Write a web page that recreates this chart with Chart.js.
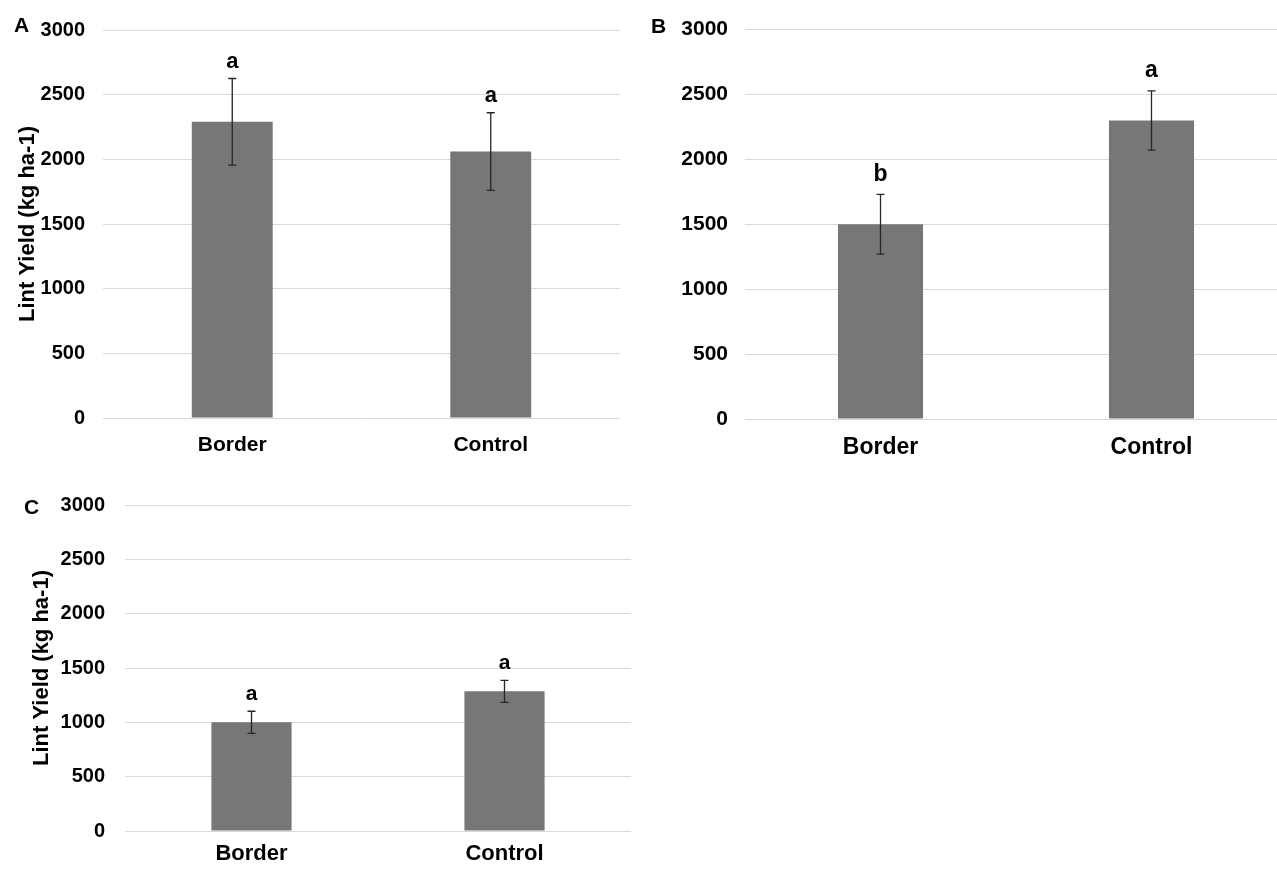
<!DOCTYPE html>
<html>
<head>
<meta charset="utf-8">
<script src="https://cdn.jsdelivr.net/npm/chart.js@4.4.1/dist/chart.umd.min.js"></script>
<style>
  html, body { margin: 0; padding: 0; background: #fff; width: 1277px; height: 870px; overflow: hidden; }
  .panel { position: absolute; }
  .tag { position: absolute; font-family: 'Liberation Sans', Arial, sans-serif; font-weight: bold; font-size: 21px; color: #000; line-height: 1; }
</style>
</head>
<body>
<div class="panel" style="left:0;top:0"><canvas id="chartA" width="640" height="470"></canvas></div>
<div class="panel" style="left:640px;top:0"><canvas id="chartB" width="660" height="470"></canvas></div>
<div class="panel" style="left:0;top:460px"><canvas id="chartC" width="640" height="410"></canvas></div>
<div class="tag" style="left:14px;top:14px">A</div>
<div class="tag" style="left:651px;top:15px">B</div>
<div class="tag" style="left:24px;top:496px">C</div>

<script>
// data
const categories = ['Border', 'Control'];
const yTicks = [0, 500, 1000, 1500, 2000, 2500, 3000];

const yieldA = [2290, 2060];
const errA = [335, 300];
const lettersA = ['a', 'a'];

const yieldB = [1500, 2300];
const errB = [230, 228];
const lettersB = ['b', 'a'];

const yieldC = [1000, 1285];
const errC = [102, 101];
const lettersC = ['a', 'a'];

const ARIAL = "'Liberation Sans', Arial, sans-serif";

// error bars + significance letters
const errorBars = {
  id: 'errorBars',
  afterDatasetsDraw(chart) {
    const o = chart.options.plugins.errorBars;
    const ctx = chart.ctx;
    const y = chart.scales.y;
    chart.getDatasetMeta(0).data.forEach((bar, i) => {
      const v = chart.data.datasets[0].data[i];
      const e = o.errors[i];
      const top = y.getPixelForValue(v + e);
      const bot = y.getPixelForValue(v - e);
      ctx.save();
      ctx.strokeStyle = '#262626';
      ctx.lineWidth = 1.3;
      ctx.beginPath();
      ctx.moveTo(bar.x, top); ctx.lineTo(bar.x, bot);
      ctx.moveTo(bar.x - 4, top); ctx.lineTo(bar.x + 4, top);
      ctx.moveTo(bar.x - 4, bot); ctx.lineTo(bar.x + 4, bot);
      ctx.stroke();
      ctx.fillStyle = '#000';
      ctx.font = o.letterFont;
      ctx.textAlign = 'center';
      ctx.textBaseline = 'middle';
      ctx.fillText(o.letters[i], bar.x, top - o.gap);
      ctx.restore();
    });
  }
};

function makeChart(id, values, errs, letters, s) {
  return new Chart(document.getElementById(id), {
    type: 'bar',
    data: {
      labels: categories,
      datasets: [{
        data: values,
        backgroundColor: '#777777',
        barPercentage: s.barPct,
        categoryPercentage: 1
      }]
    },
    options: {
      responsive: false,
      animation: false,
      devicePixelRatio: 1,
      layout: { padding: s.padding },
      plugins: {
        legend: { display: false },
        tooltip: { enabled: false },
        errorBars: { errors: errs, letters: letters, gap: s.gap, letterFont: s.letterFont }
      },
      scales: {
        x: {
          grid: { display: false, drawTicks: false },
          border: { display: false },
          ticks: { color: '#000', padding: s.xPad, font: s.xFont },
          afterFit: sc => { sc.height = s.xHeight; }
        },
        y: {
          min: 0,
          max: 3000,
          afterBuildTicks: sc => { sc.ticks = yTicks.map(v => ({ value: v })); },
          grid: { color: '#d9d9d9', lineWidth: 1, drawTicks: false },
          border: { display: false },
          ticks: { color: '#000', padding: s.yPad, font: s.yFont, callback: v => String(v) },
          title: {
            display: s.title,
            text: 'Lint Yield (kg ha-1)',
            color: '#000',
            font: s.titleFont,
            padding: { top: s.titlePad, bottom: 0 }
          },
          afterFit: sc => { sc.width = s.yWidth; }
        }
      }
    },
    plugins: [errorBars]
  });
}

makeChart('chartA', yieldA, errA, lettersA, {
  padding: { left: 0, right: 20, top: 24, bottom: 0 },
  yWidth: 103, xHeight: 52, barPct: 0.313,
  yPad: 18, xPad: 15,
  yFont: { family: ARIAL, size: 20, weight: 'bold' },
  xFont: { family: ARIAL, size: 21, weight: 'bold' },
  title: true, titlePad: 15,
  titleFont: { family: ARIAL, size: 22, weight: 'bold' },
  gap: 17, letterFont: "bold 22px " + ARIAL
});

makeChart('chartB', yieldB, errB, lettersB, {
  padding: { left: 0, right: 13, top: 26, bottom: 0 },
  yWidth: 105, xHeight: 51, barPct: 0.314,
  yPad: 17, xPad: 15,
  yFont: { family: ARIAL, size: 21, weight: 'bold' },
  xFont: { family: ARIAL, size: 23, weight: 'bold' },
  title: false, titlePad: 0,
  titleFont: { family: ARIAL, size: 20, weight: 'bold' },
  gap: 20, letterFont: "bold 23px " + ARIAL
});

makeChart('chartC', yieldC, errC, lettersC, {
  padding: { left: 0, right: 9, top: 45, bottom: 0 },
  yWidth: 125, xHeight: 39, barPct: 0.317,
  yPad: 20, xPad: 10,
  yFont: { family: ARIAL, size: 20, weight: 'bold' },
  xFont: { family: ARIAL, size: 22, weight: 'bold' },
  title: true, titlePad: 29,
  titleFont: { family: ARIAL, size: 22, weight: 'bold' },
  gap: 17, letterFont: "bold 21px " + ARIAL
});
</script>
</body>
</html>
